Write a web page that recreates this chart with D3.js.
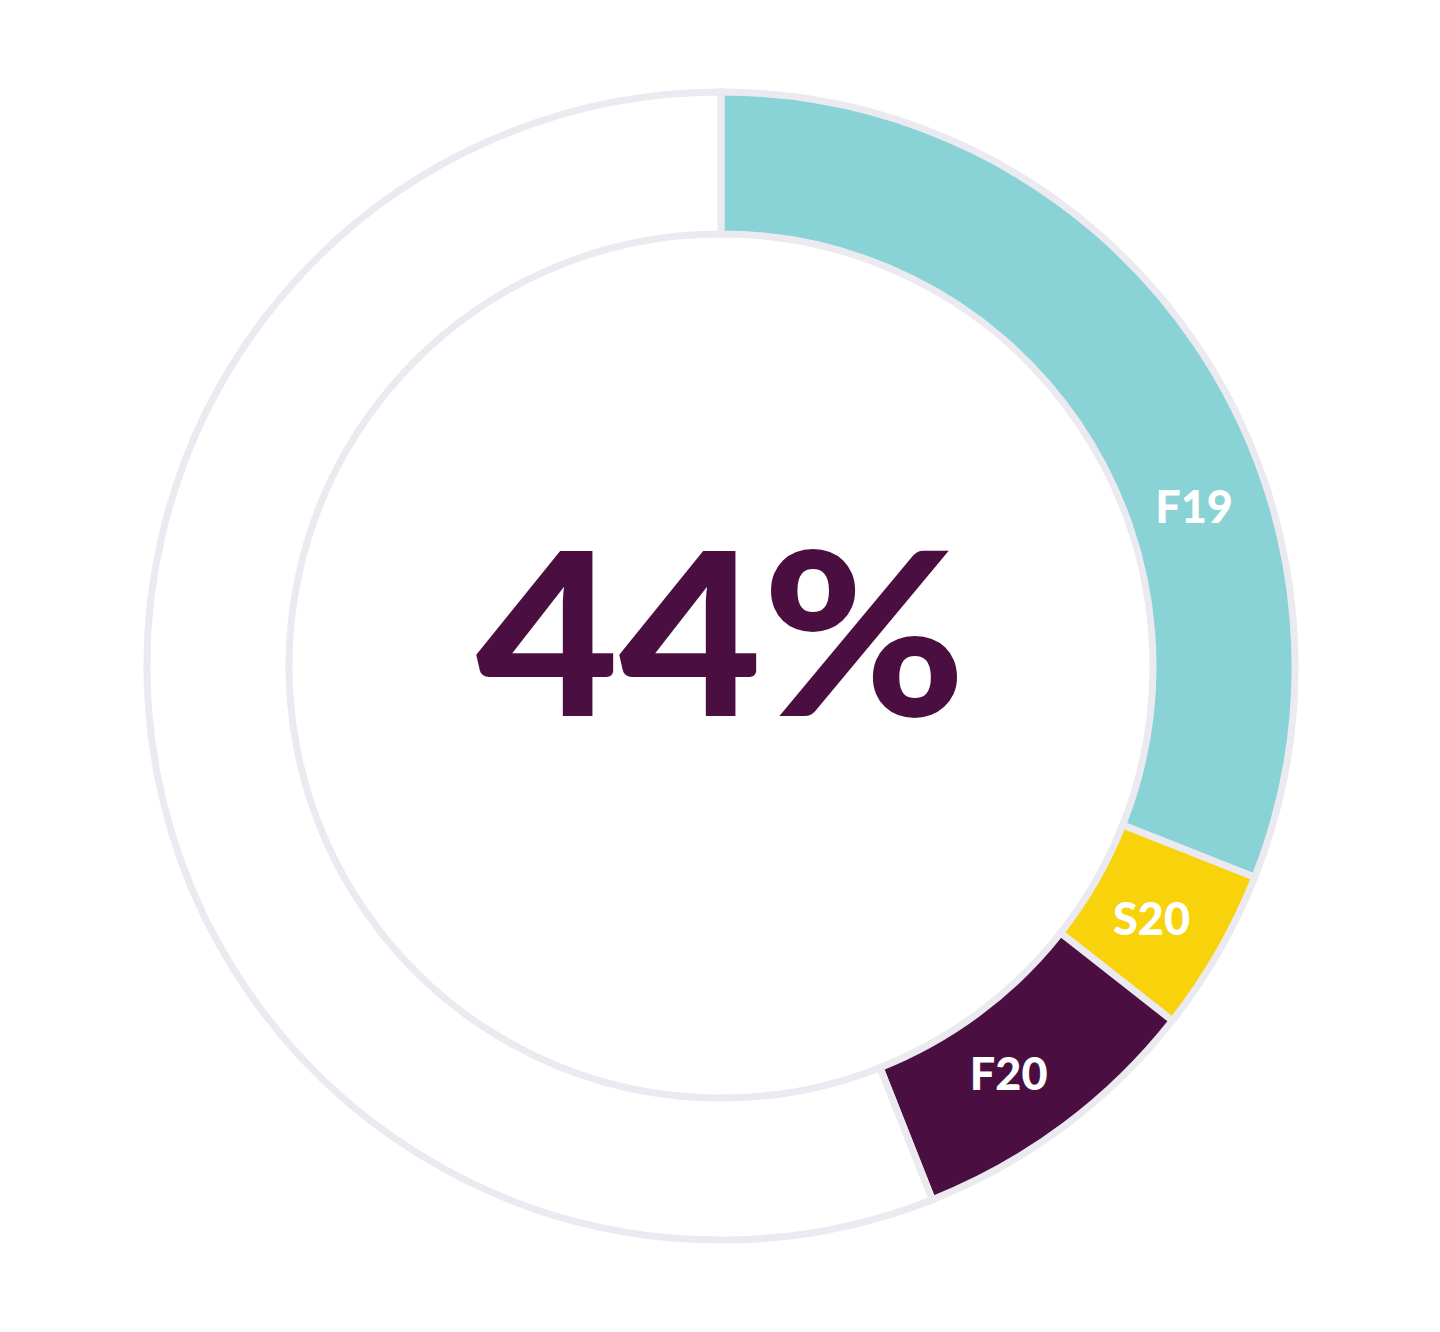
<!DOCTYPE html>
<html>
<head>
<meta charset="utf-8">
<script src="https://cdn.jsdelivr.net/npm/d3@7"></script>
<style>
  html, body { margin: 0; padding: 0; background: #ffffff; }
  svg { display: block; }
</style>
</head>
<body>
<svg id="chart" width="1440" height="1332"></svg>
<script>
// ---- data ----
const categories = ["F19", "S20", "F20"];
const values = [31.0, 4.6, 8.4];          // percent of the full ring
const colors = ["#89d2d5", "#f8d20b", "#4a0e40"];
const totalLabel = "44%";

// ---- layout ----
const W = 1440, H = 1332;
const cx = 721, cy = 666;
const rOuter = 574, rInner = 432;
const strokeCol = "#eaeaf0";
const labelFrac = [0.64, 0.53, 0.55]; // where along each arc the label sits

const svg = d3.select("#chart");
const g = svg.append("g").attr("transform", `translate(${cx},${cy})`);

const rest = 100 - d3.sum(values);
const pieData = d3.pie().sort(null).value(d => d.v).startAngle(0).endAngle(2 * Math.PI)(
  categories.map((c, i) => ({ c, v: values[i], col: colors[i] })).concat([{ c: "", v: rest, col: "#ffffff" }])
);

const arc = d3.arc().innerRadius(rInner).outerRadius(rOuter);

g.selectAll("path.seg")
  .data(pieData)
  .join("path")
  .attr("class", "seg")
  .attr("d", arc)
  .attr("fill", d => d.data.col)
  .attr("stroke", strokeCol)
  .attr("stroke-width", 7)
  .attr("stroke-linejoin", "miter");

// labels
const rLabel = 499;
const labAngle = (d, i) => d.startAngle + (d.endAngle - d.startAngle) * labelFrac[i];
g.selectAll("text.lab")
  .data(pieData.slice(0, categories.length))
  .join("text")
  .attr("class", "lab")
  .attr("x", (d, i) => rLabel * Math.sin(labAngle(d, i)))
  .attr("y", (d, i) => -rLabel * Math.cos(labAngle(d, i)))
  .attr("dy", "0.36em")
  .attr("text-anchor", "middle")
  .attr("fill", "#ffffff")
  .attr("font-family", "Lato, 'Open Sans', sans-serif")
  .attr("font-weight", 900)
  .attr("font-size", 45)
  .text(d => d.data.c);

// center value
g.append("text")
  .attr("x", 0)
  .attr("y", 50)
  .attr("text-anchor", "middle")
  .attr("fill", "#4a0e40")
  .attr("font-family", "Lato, 'Open Sans', sans-serif")
  .attr("font-weight", 900)
  .attr("font-size", 228)
  .attr("textLength", 490)
  .attr("lengthAdjust", "spacingAndGlyphs")
  .text(totalLabel);
</script>
</body>
</html>
